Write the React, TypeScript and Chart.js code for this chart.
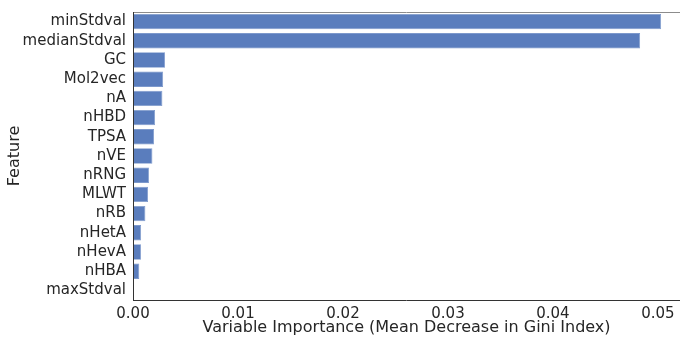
import React, { useEffect, useRef } from "react";
import { Chart, registerables } from "chart.js";

Chart.register(...registerables);

const features = [
  "minStdval", "medianStdval", "GC", "Mol2vec", "nA", "nHBD", "TPSA", "nVE",
  "nRNG", "MLWT", "nRB", "nHetA", "nHevA", "nHBA", "maxStdval",
];
const importance = [
  0.0503, 0.0483, 0.00305, 0.00287, 0.0028, 0.0021, 0.002, 0.00185,
  0.00152, 0.00143, 0.00118, 0.00077, 0.00076, 0.0006, 0.0,
];
const xTicks = [0.0, 0.01, 0.02, 0.03, 0.04, 0.05];
const xTickLabels = ["0.00", "0.01", "0.02", "0.03", "0.04", "0.05"];
const xTitle = "Variable Importance (Mean Decrease in Gini Index)";
const yTitle = "Feature";

const FONT = "'DejaVu Sans', sans-serif";

export default function App() {
  const ref = useRef<HTMLCanvasElement | null>(null);
  useEffect(() => {
    document.body.style.margin = "0";
    const spines = {
      id: "spines",
      afterDatasetsDraw(chart: any) {
        const { ctx, chartArea: a } = chart;
        ctx.save();
        ctx.lineWidth = 1;
        ctx.strokeStyle = "#8c8c8c";
        ctx.beginPath();
        ctx.moveTo(a.left, a.top + 0.5);
        ctx.lineTo(a.right, a.top + 0.5);
        ctx.stroke();
        ctx.strokeStyle = "#333333";
        ctx.beginPath();
        ctx.moveTo(a.left + 0.5, a.top);
        ctx.lineTo(a.left + 0.5, a.bottom);
        ctx.moveTo(a.left, a.bottom + 0.5);
        ctx.lineTo(a.right, a.bottom + 0.5);
        ctx.stroke();
        ctx.restore();
      },
    };
    const chart = new Chart(ref.current!, {
      type: "bar",
      data: {
        labels: features,
        datasets: [
          {
            data: importance,
            backgroundColor: "#5a7dbd",
            borderColor: "#7d99cc",
            borderWidth: 0.8,
            barPercentage: 0.8,
            categoryPercentage: 1,
          },
        ],
      },
      options: {
        indexAxis: "y",
        animation: false,
        responsive: false,
        maintainAspectRatio: false,
        layout: { padding: { top: 12, right: 0, left: 0, bottom: 0 } },
        plugins: { legend: { display: false }, tooltip: { enabled: false } },
        scales: {
          x: {
            type: "linear",
            min: 0,
            max: 0.0521,
            grid: { display: false, drawTicks: false },
            border: { display: false },
            afterBuildTicks: (s: any) => {
              s.ticks = xTicks.map((v) => ({ value: v }));
            },
            afterFit: (s: any) => {
              s.height = 37;
              s.paddingLeft = 0;
              s.paddingRight = 0;
            },
            ticks: {
              color: "#262626",
              font: { family: FONT, size: 15 },
              padding: 5,
              maxRotation: 0,
              autoSkip: false,
              callback: (v: any) => {
                const i = xTicks.findIndex((t) => Math.abs(t - Number(v)) < 1e-9);
                return i >= 0 ? xTickLabels[i] : "";
              },
            },
            title: {
              display: true,
              text: xTitle,
              color: "#262626",
              font: { family: FONT, size: 16 },
              padding: { top: 0, bottom: 0 },
            },
          },
          y: {
            type: "category",
            grid: { display: false, drawTicks: false },
            border: { display: false },
            afterFit: (s: any) => {
              s.width = 133;
              s.paddingTop = 0;
              s.paddingBottom = 0;
            },
            ticks: {
              color: "#262626",
              font: { family: FONT, size: 15 },
              padding: 7,
              autoSkip: false,
            },
            title: {
              display: true,
              text: yTitle,
              color: "#262626",
              font: { family: FONT, size: 16 },
              padding: { top: 5, bottom: 0 },
            },
          },
        },
      },
      plugins: [spines],
    });
    return () => chart.destroy();
  }, []);
  return (
    <div style={{ position: "absolute", left: 0, top: 0, width: 680, height: 337, background: "#fff" }}>
      <canvas ref={ref} width={680} height={337} style={{ width: 680, height: 337 }} />
    </div>
  );
}
